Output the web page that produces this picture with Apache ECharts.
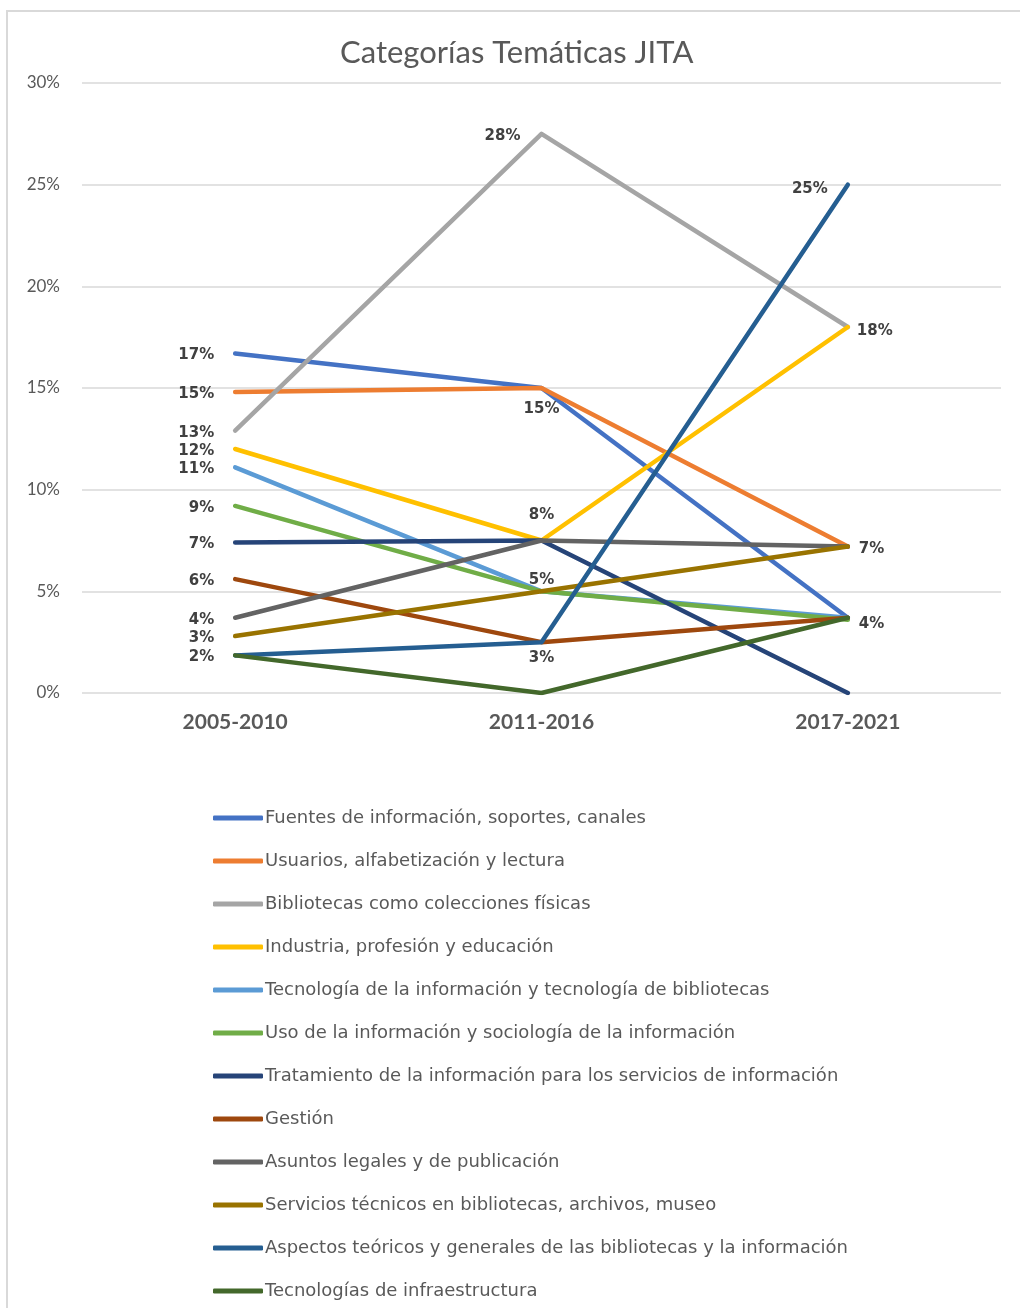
<!DOCTYPE html>
<html>
<head>
<meta charset="utf-8">
<script src="https://cdn.jsdelivr.net/npm/echarts@6/dist/echarts.min.js"></script>
<style>
html,body{margin:0;padding:0;background:#fff;}
#main{width:1020px;height:1308px;}
</style>
</head>
<body>
<div id="main"></div>
<script>
const categories = ['2005-2010', '2011-2016', '2017-2021'];
const seriesNames = [
  'Fuentes de información, soportes, canales',
  'Usuarios, alfabetización y lectura',
  'Bibliotecas como colecciones físicas',
  'Industria, profesión y educación',
  'Tecnología de la información y tecnología de bibliotecas',
  'Uso de la información y sociología de la información',
  'Tratamiento de la información para los servicios de información',
  'Gestión',
  'Asuntos legales y de publicación',
  'Servicios técnicos en bibliotecas, archivos, museo',
  'Aspectos teóricos y generales de las bibliotecas y la información',
  'Tecnologías de infraestructura'
];
const fuentes = [16.7, 15.0, 3.7];
const usuarios = [14.8, 15.0, 7.2];
const bibliotecas = [12.9, 27.5, 18.0];
const industria = [12.0, 7.5, 18.0];
const tecInfo = [11.1, 5.0, 3.7];
const usoInfo = [9.2, 5.0, 3.6];
const tratamiento = [7.4, 7.5, 0];
const gestion = [5.6, 2.5, 3.7];
const asuntos = [3.7, 7.5, 7.2];
const servicios = [2.8, 5.0, 7.2];
const aspectos = [1.85, 2.5, 25.0];
const infraestructura = [1.85, 0, 3.7];
const yTicks = [0, 5, 10, 15, 20, 25, 30];

const allValues = [fuentes, usuarios, bibliotecas, industria, tecInfo, usoInfo, tratamiento, gestion, asuntos, servicios, aspectos, infraestructura];
const colors = ['#4472C4','#ED7D31','#A5A5A5','#FFC000','#5B9BD5','#70AD47','#264478','#9E480E','#636363','#997300','#255E91','#43682B'];
// label placement relative to the point: [dx, dy(center), align] or null
const L = [-21, 2, 'right'];
const labelPos = [
  [L, null, null],
  [L, [0, 21, 'center'], null],
  [L, [-21, 2, 'right'], null],
  [L, [0, -25, 'center'], [9, 4, 'left']],
  [L, [0, -11, 'center'], null],
  [L, null, null],
  [L, null, null],
  [L, null, null],
  [L, null, null],
  [L, null, [11, 3, 'left']],
  [L, [0, 16, 'center'], [-20, 4, 'right']],
  [null, null, [11, 6, 'left']]
];

const FONT = 'Lato, "Open Sans", sans-serif';
const WIDE = '"DejaVu Sans", sans-serif';
const chart = echarts.init(document.getElementById('main'), null, {renderer: 'canvas'});

const series = allValues.map((vals, i) => ({
  name: seriesNames[i],
  type: 'line',
  symbol: 'circle',
  symbolSize: 0.01,
  showSymbol: true,
  lineStyle: {width: 4.5, color: colors[i], cap: 'round', join: 'round'},
  itemStyle: {color: colors[i]},
  emphasis: {disabled: true},
  labelLayout: {hideOverlap: false},
  data: vals.map((v, j) => {
    const p = labelPos[i][j];
    return {
      value: v,
      label: p ? {
        show: true, position: [p[0], p[1]], align: p[2], verticalAlign: 'middle',
        formatter: (prm) => Math.round(prm.value) + '%',
        color: '#404040', fontFamily: WIDE, fontWeight: 'bold', fontSize: 15
      } : {show: false}
    };
  })
}));

chart.setOption({
  animation: false,
  backgroundColor: '#fff',
  color: colors,
  title: {
    text: 'Categorías Temáticas JITA',
    left: 335, top: 32,
    textStyle: {fontFamily: FONT, fontSize: 31, fontWeight: 'normal', color: '#595959'}
  },
  grid: {left: 82, right: 19, top: 83, bottom: 615, containLabel: false},
  xAxis: {
    type: 'category',
    data: categories,
    boundaryGap: true,
    axisLine: {show: false},
    axisTick: {show: false},
    axisLabel: {fontFamily: FONT, fontSize: 21, fontWeight: 'bold', color: '#595959', margin: 19}
  },
  yAxis: {
    type: 'value',
    min: yTicks[0], max: yTicks[yTicks.length - 1], interval: 5,
    axisLine: {show: false},
    axisTick: {show: false},
    splitLine: {lineStyle: {color: '#D9D9D9', width: 1.5}},
    axisLabel: {fontFamily: FONT, fontSize: 17, color: '#595959', margin: 22, formatter: '{value}%'}
  },
  legend: {
    orient: 'vertical',
    left: 208, top: 803,
    itemWidth: 50, itemHeight: 5,
    itemGap: 23,
    icon: 'roundRect',
    selectedMode: false,
    textStyle: {fontFamily: WIDE, fontSize: 18, color: '#595959', lineHeight: 20, padding: [0, 0, 0, -3]},
    data: seriesNames
  },
  graphic: [{
    type: 'rect',
    shape: {x: 7, y: 11, width: 1100, height: 1400},
    style: {fill: 'none', stroke: '#D9D9D9', lineWidth: 2},
    silent: true
  }],
  series: series
});
</script>
</body>
</html>
